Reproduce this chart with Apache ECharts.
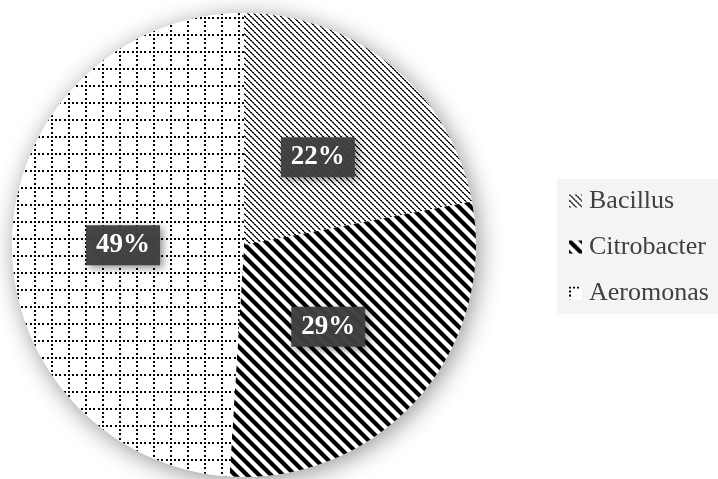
<!DOCTYPE html>
<html>
<head>
<meta charset="utf-8">
<script src="https://cdn.jsdelivr.net/npm/echarts@6/dist/echarts.min.js"></script>
<style>
html,body{margin:0;padding:0;background:#fff;}
#chart{width:718px;height:479px;}
</style>
</head>
<body>
<div id="chart"></div>
<script>
var categories = ['Bacillus', 'Citrobacter', 'Aeromonas'];
var values = [22, 29, 49];

function makeTile(size, draw) {
  var c = document.createElement('canvas');
  c.width = size; c.height = size;
  var ctx = c.getContext('2d');
  ctx.fillStyle = '#ffffff';
  ctx.fillRect(0, 0, size, size);
  draw(ctx, size);
  return c;
}
function diagLines(ctx, s, w, color) {
  ctx.strokeStyle = color;
  ctx.lineWidth = w;
  ctx.lineCap = 'butt';
  for (var k = -1; k <= 1; k++) {
    ctx.beginPath();
    ctx.moveTo(-2, k * s - 2);
    ctx.lineTo(s + 2, s + k * s + 2);
    ctx.stroke();
  }
}
var bacillusTile = makeTile(6, function (ctx, s) {
  var img = ctx.getImageData(0, 0, s, s);
  for (var y = 0; y < s; y++) {
    for (var x = 0; x < s; x++) {
      var d = ((x - y) % s + s) % s;
      var v = 255;
      if (d === 0) v = (x % 2 === 0) ? 0 : 70;
      else if (d === 1) v = (x % 2 === 0) ? 120 : 20;
      var i = (y * s + x) * 4;
      img.data[i] = v; img.data[i + 1] = v; img.data[i + 2] = v; img.data[i + 3] = 255;
    }
  }
  ctx.putImageData(img, 0, 0);
});
var citroTile = makeTile(12, function (ctx, s) {
  diagLines(ctx, s, 4.2, '#000000');
});
var aeroTile = makeTile(17, function (ctx, s) {
  ctx.fillStyle = '#000000';
  var pos = [0, 4, 8, 13];
  for (var i = 0; i < pos.length; i++) {
    ctx.fillRect(pos[i], 0, 2, 2);
    ctx.fillRect(0, pos[i], 2, 2);
  }
});
var patterns = [bacillusTile, citroTile, aeroTile];
var labelOffsets = [[-2, 4], [-5, 3], [-2, 4]];

var chart = echarts.init(document.getElementById('chart'), null, {renderer: 'canvas'});
var pieData = categories.map(function (name, i) {
  return {
    name: name,
    value: values[i],
    itemStyle: { color: { image: patterns[i], repeat: 'repeat' } },
    label: { offset: labelOffsets[i] }
  };
});

chart.setOption({
  backgroundColor: '#ffffff',
  animation: false,
  legend: {
    data: categories,
    orient: 'vertical',
    left: 557,
    top: 179,
    padding: [9, 12, 8, 12],
    backgroundColor: '#f4f4f4',
    itemWidth: 13,
    itemHeight: 13,
    itemGap: 20,
    icon: 'rect',
    selectedMode: false,
    textStyle: {
      fontFamily: 'Liberation Serif',
      fontSize: 26,
      color: '#404040',
      padding: [0, 0, 0, 2]
    }
  },
  series: [
    {
      type: 'pie',
      silent: true,
      center: [244, 245],
      radius: [0, 232],
      z: 1,
      label: { show: false },
      labelLine: { show: false },
      data: [{ name: '_bg', value: 1, itemStyle: {
        color: '#ffffff',
        shadowBlur: 24,
        shadowColor: 'rgba(0,0,0,0.42)',
        shadowOffsetX: 3,
        shadowOffsetY: 4
      } }]
    },
    {
      type: 'pie',
      center: [244, 245],
      radius: [0, 232],
      startAngle: 90,
      clockwise: true,
      z: 2,
      itemStyle: { borderWidth: 0 },
      emphasis: { disabled: true },
      label: {
        show: true,
        position: 'inside',
        formatter: function (p) { return values[p.dataIndex] + '%'; },
        color: '#ffffff',
        fontFamily: 'Liberation Serif',
        fontWeight: 'bold',
        fontSize: 27,
        lineHeight: 27,
        backgroundColor: 'rgba(64,64,64,0.96)',
        padding: [7, 10, 6, 10],
        shadowBlur: 8,
        shadowColor: 'rgba(0,0,0,0.45)',
        shadowOffsetX: 3,
        shadowOffsetY: 3
      },
      labelLine: { show: false },
      data: pieData
    }
  ]
});
</script>
</body>
</html>
